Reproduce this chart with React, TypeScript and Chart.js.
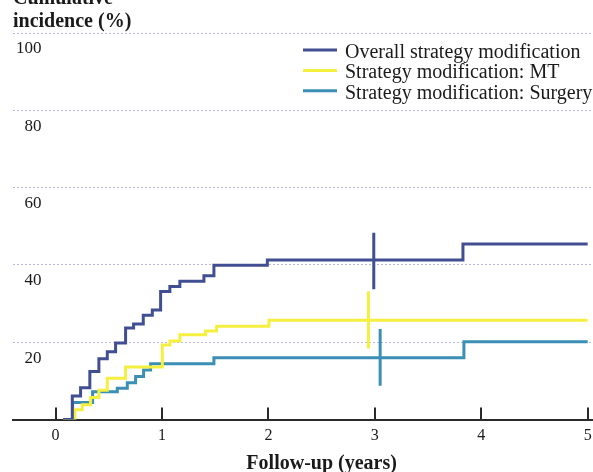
import React, { useEffect, useRef } from 'react';
import { Chart, registerables } from 'chart.js';

Chart.register(...registerables);

const seriesLabels = [
  'Overall strategy modification',
  'Strategy modification: MT',
  'Strategy modification: Surgery',
];
const seriesColors = ['#414f92', '#f5f040', '#3b8fb5'];

// Follow-up time (years) at which each step occurs, and cumulative incidence (%)
const overallT = [0.07, 0.157, 0.235, 0.322, 0.407, 0.486, 0.564, 0.658, 0.733, 0.824, 0.909, 0.987, 1.074, 1.168, 1.394, 1.488, 1.99, 3.828, 5.0];
const overallV = [0, 6.1, 8.2, 12.4, 15.7, 17.5, 19.8, 23.7, 24.7, 27.0, 28.3, 33.1, 34.4, 35.8, 37.2, 39.9, 41.3, 45.4, 45.4];

const mtT = [0.07, 0.181, 0.251, 0.329, 0.407, 0.486, 0.658, 1.003, 1.074, 1.168, 1.41, 1.513, 2.005, 5.0];
const mtV = [0, 2.5, 3.8, 5.7, 7.6, 10.7, 13.6, 19.3, 20.3, 21.9, 22.9, 24.1, 25.7, 25.7];

const surgeryT = [0.07, 0.16, 0.348, 0.58, 0.674, 0.752, 0.827, 0.893, 1.488, 3.837, 5.0];
const surgeryV = [0, 4.4, 7.2, 8.1, 9.5, 11.1, 12.8, 14.4, 16.0, 20.1, 20.1];

// Vertical interval markers at ~3 years (overall, MT, surgery)
const markerT = [2.99, 2.94, 3.05];
const markerLow = [33.7, 18.4, 8.7];
const markerHigh = [48.3, 33.1, 23.4];

const xTicks = [0, 1, 2, 3, 4, 5];
const yTicks = [0, 20, 40, 60, 80, 100];

const toPoints = (t: number[], v: number[]) => t.map((x, i) => ({ x, y: v[i] }));

const decorPlugin = {
  id: 'decor',
  afterDraw(chart: any) {
    const { ctx, chartArea, scales } = chart;
    const x = scales.x;
    ctx.save();
    // tick marks pointing up from the x axis
    ctx.strokeStyle = '#2a2a2a';
    ctx.lineWidth = 2;
    xTicks.forEach((v) => {
      const px = Math.round(x.getPixelForValue(v));
      ctx.beginPath();
      ctx.moveTo(px, chartArea.bottom);
      ctx.lineTo(px, chartArea.bottom - 12);
      ctx.stroke();
    });
    // axis titles
    ctx.fillStyle = '#1a1a1a';
    ctx.font = 'bold 20px "Liberation Serif"';
    ctx.textAlign = 'left';
    ctx.textBaseline = 'alphabetic';
    ctx.fillText('Cumulative', 13, 3.5);
    ctx.fillText('incidence (%)', 13, 27);
    ctx.textAlign = 'center';
    ctx.fillText('Follow-up (years)', x.getPixelForValue(2.5), 469);
    // legend
    ctx.font = '20px "Liberation Serif"';
    ctx.textAlign = 'left';
    seriesLabels.forEach((lab, i) => {
      const yLine = 50 + i * 20.4;
      const yBase = 57.6 + i * 20.7;
      ctx.strokeStyle = seriesColors[i];
      ctx.lineWidth = 3;
      ctx.beginPath();
      ctx.moveTo(303, yLine);
      ctx.lineTo(337, yLine);
      ctx.stroke();
      ctx.fillStyle = '#1a1a1a';
      ctx.fillText(lab, 345, yBase);
    });
    ctx.restore();
  },
};

export default function App() {
  const ref = useRef<HTMLCanvasElement>(null);
  useEffect(() => {
    if (!ref.current) return;
    const curves = [
      toPoints(overallT, overallV),
      toPoints(mtT, mtV),
      toPoints(surgeryT, surgeryV),
    ];
    const datasets: any[] = curves.map((data, i) => ({
      label: seriesLabels[i],
      data,
      borderColor: seriesColors[i],
      backgroundColor: seriesColors[i],
      borderWidth: 3,
      pointRadius: 0,
      stepped: 'before',
      fill: false,
    }));
    markerT.forEach((t, i) => {
      datasets.push({
        label: seriesLabels[i] + ' marker',
        data: [
          { x: t, y: markerLow[i] },
          { x: t, y: markerHigh[i] },
        ],
        borderColor: seriesColors[i],
        borderWidth: 3,
        pointRadius: 0,
        fill: false,
      });
    });
    const chart = new Chart(ref.current, {
      type: 'line',
      data: { datasets },
      options: {
        animation: false,
        responsive: false,
        maintainAspectRatio: false,
        layout: { padding: { top: 33, left: 13, right: 0, bottom: 28.5 } },
        plugins: {
          legend: { display: false },
          tooltip: { enabled: false },
        },
        scales: {
          x: {
            type: 'linear',
            min: -0.4,
            max: 5.05,
            afterBuildTicks: (s: any) => {
              s.ticks = xTicks.map((v) => ({ value: v }));
            },
            afterFit: (s: any) => {
              s.height = 24;
              s.paddingLeft = 0;
              s.paddingRight = 0;
            },
            grid: { display: false, drawTicks: false },
            border: { display: true, color: '#2a2a2a', width: 2 },
            ticks: {
              color: '#1a1a1a',
              padding: 7,
              font: { family: '"Liberation Serif"', size: 16 },
              maxRotation: 0,
              autoSkip: false,
            },
          },
          y: {
            type: 'linear',
            min: 0,
            max: 100,
            afterBuildTicks: (s: any) => {
              s.ticks = yTicks.map((v) => ({ value: v }));
            },
            afterFit: (s: any) => {
              s.width = 0;
              s.paddingTop = 0;
              s.paddingBottom = 0;
            },
            grid: {
              drawTicks: false,
              color: (c: any) => (c.tick && c.tick.value === 0 ? 'rgba(0,0,0,0)' : 'rgba(165,150,220,0.7)'),
              lineWidth: 1,
            },
            border: { display: false, dash: [2, 2] },
            ticks: {
              mirror: true,
              crossAlign: 'far',
              padding: 3,
              labelOffset: 16,
              color: '#1a1a1a',
              font: { family: '"Liberation Serif"', size: 17 },
              callback: (v: any) => (v === 0 ? '' : String(v)),
            },
          },
        },
      },
      plugins: [decorPlugin],
    });
    return () => chart.destroy();
  }, []);
  return (
    <div style={{ position: 'absolute', left: 0, top: 0, width: 593, height: 472, background: '#fff' }}>
      <canvas ref={ref} width={593} height={472} style={{ width: 593, height: 472, display: 'block' }} />
    </div>
  );
}
